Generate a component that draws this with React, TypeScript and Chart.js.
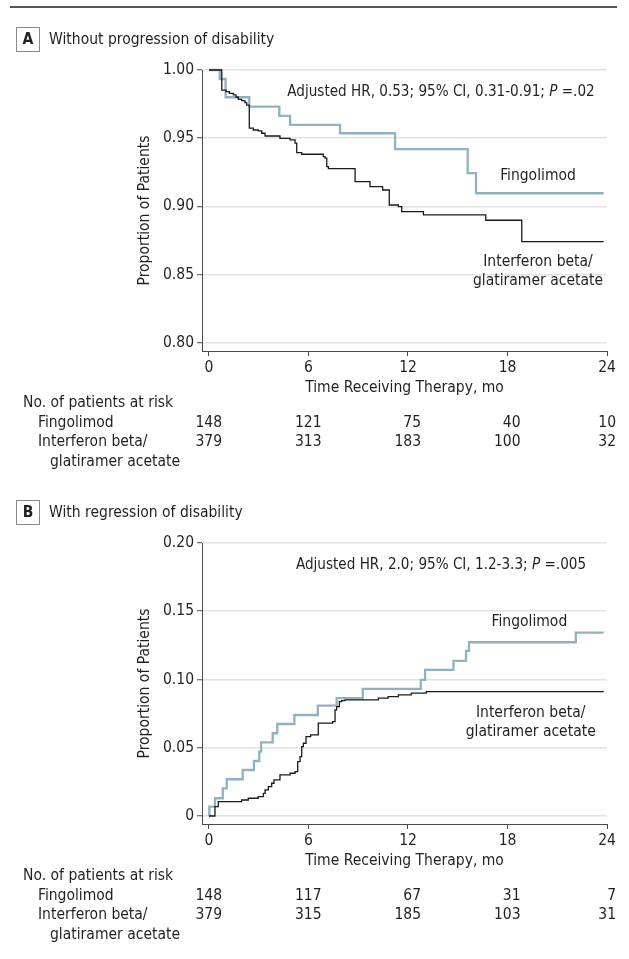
import React, { useEffect, useRef } from 'react';
import { Chart, registerables } from 'chart.js';

Chart.register(...registerables);

// ---------------- Data ----------------
const timeTicks = [0, 6, 12, 18, 24];
const riskTimes = [0, 6, 12, 18, 24];
const seriesNames = ['Fingolimod', 'Interferon beta/glatiramer acetate'];

// Panel A: without progression of disability (survival-type curve)
const aYTicks = [0.8, 0.85, 0.9, 0.95, 1.0];
const aFingoTime = [0, 0.65, 1.0, 2.43, 4.24, 4.89, 7.9, 11.22, 15.6, 16.1, 23.8];
const aFingoValue = [1, 0.9934, 0.98, 0.9731, 0.9663, 0.9597, 0.9536, 0.9419, 0.9243, 0.9096, 0.9096];
const aIfnTime = [0, 0.77, 1.03, 1.23, 1.47, 1.63, 1.77, 1.97, 2.17, 2.27, 2.43, 2.67, 2.97, 3.18, 3.38, 4.28, 4.89, 5.19, 5.29, 5.59, 6.89, 7.0, 7.1, 7.2, 8.81, 9.71, 10.47, 10.87, 11.42, 11.62, 12.93, 16.69, 18.86, 23.8];
const aIfnValue = [1, 0.9853, 0.9841, 0.9829, 0.9817, 0.98, 0.9785, 0.9775, 0.976, 0.9743, 0.9573, 0.956, 0.9553, 0.9536, 0.9516, 0.9499, 0.9487, 0.9463, 0.9394, 0.9382, 0.9365, 0.9353, 0.9291, 0.9277, 0.9181, 0.9145, 0.912, 0.901, 0.8998, 0.8961, 0.8937, 0.8898, 0.8741, 0.8741];
const aRiskFingo = [148, 121, 75, 40, 10];
const aRiskIfn = [379, 313, 183, 100, 32];

// Panel B: with regression of disability (cumulative incidence)
const bYTicks = [0, 0.05, 0.1, 0.15, 0.2];
const bFingoTime = [0, 0.02, 0.36, 0.83, 1.07, 2.03, 2.71, 3.03, 3.14, 3.84, 4.12, 5.15, 6.56, 7.7, 9.27, 12.77, 13.03, 14.74, 15.5, 15.68, 22.12, 23.8];
const bFingoValue = [0, 0.0068, 0.013, 0.0203, 0.0269, 0.0337, 0.0403, 0.0471, 0.054, 0.0606, 0.0674, 0.074, 0.0809, 0.0863, 0.0931, 0.0997, 0.107, 0.1136, 0.121, 0.1273, 0.1344, 0.1344];
const bIfnTime = [0, 0.36, 0.56, 1.97, 2.37, 2.97, 3.28, 3.38, 3.58, 3.78, 3.92, 4.28, 4.89, 5.19, 5.35, 5.49, 5.59, 5.69, 5.85, 6.13, 6.59, 7.46, 7.6, 7.7, 7.86, 8.0, 8.2, 10.21, 10.8, 11.42, 12.2, 13.1, 23.8];
const bIfnValue = [0, 0.0068, 0.0105, 0.0117, 0.013, 0.0142, 0.0166, 0.0191, 0.0215, 0.024, 0.0264, 0.0301, 0.0313, 0.0325, 0.0398, 0.0435, 0.0508, 0.0533, 0.0581, 0.0594, 0.068, 0.0692, 0.0777, 0.0801, 0.0838, 0.0845, 0.085, 0.0863, 0.0875, 0.0887, 0.09, 0.0911, 0.0911];
const bRiskFingo = [148, 117, 67, 31, 7];
const bRiskIfn = [379, 315, 185, 103, 31];

// ---------------- Styles ----------------
const FONT = '"DejaVu Sans Condensed", "Liberation Sans Narrow", "DejaVu Sans", sans-serif';
const FS = 15.5;
const FS_ANN = 15.1;
const TEXT = '#231f20';
const AXIS = '#4a4a4a';
const GRID = '#e2e2e2';
const BLUE = '#8fb2c1';
const BLACK = '#1a1a1a';

type Part = { t: string; it?: boolean };
type Panel = {
  letter: string;
  title: string;
  rule: boolean;
  height: number;
  top: number;
  yMin: number;
  yMax: number;
  yTicks: number[];
  fmt: (v: number) => string;
  fingoT: number[];
  fingoV: number[];
  ifnT: number[];
  ifnV: number[];
  riskF: number[];
  riskI: number[];
  annotation: Part[];
  fingoLabel: [number, number];
  ifnLabel: [number, number, number];
};

const panels: Panel[] = [
  {
    letter: 'A',
    title: 'Without progression of disability',
    rule: true,
    height: 473,
    top: 0,
    yMin: 0.7939,
    yMax: 1.0,
    yTicks: aYTicks,
    fmt: (v) => v.toFixed(2),
    fingoT: aFingoTime,
    fingoV: aFingoValue,
    ifnT: aIfnTime,
    ifnV: aIfnValue,
    riskF: aRiskFingo,
    riskI: aRiskIfn,
    annotation: [{ t: 'Adjusted HR, 0.53; 95% CI, 0.31-0.91; ' }, { t: 'P', it: true }, { t: ' =.02' }],
    fingoLabel: [19.84, 0.9223],
    ifnLabel: [19.84, 0.8595, 0.8455],
  },
  {
    letter: 'B',
    title: 'With regression of disability',
    rule: false,
    height: 486,
    top: 473,
    yMin: -0.00587,
    yMax: 0.2,
    yTicks: bYTicks,
    fmt: (v) => (v === 0 ? '0' : v.toFixed(2)),
    fingoT: bFingoTime,
    fingoV: bFingoValue,
    ifnT: bIfnTime,
    ifnV: bIfnValue,
    riskF: bRiskFingo,
    riskI: bRiskIfn,
    annotation: [{ t: 'Adjusted HR, 2.0; 95% CI, 1.2-3.3; ' }, { t: 'P', it: true }, { t: ' =.005' }],
    fingoLabel: [19.32, 0.142],
    ifnLabel: [19.4, 0.0753, 0.0618],
  },
];

const font = (style = '', size = FS) => `${style} ${size}px ${FONT}`.trim();

function decorPlugin(p: Panel) {
  return {
    id: 'decor' + p.letter,
    afterDraw(chart: any) {
      const ctx: CanvasRenderingContext2D = chart.ctx;
      const xs = chart.scales.x;
      const ys = chart.scales.y;
      const area = chart.chartArea;
      ctx.save();
      ctx.fillStyle = TEXT;
      ctx.textBaseline = 'middle';

      if (p.rule) {
        ctx.strokeStyle = '#555';
        ctx.lineWidth = 2;
        ctx.beginPath();
        ctx.moveTo(10, 7);
        ctx.lineTo(617, 7);
        ctx.stroke();
      }

      // panel letter box + title
      const titleY = area.top - 30.5;
      ctx.strokeStyle = '#8a8a8a';
      ctx.lineWidth = 1;
      ctx.strokeRect(16.5, titleY - 12, 23, 24);
      ctx.font = font('bold');
      ctx.textAlign = 'center';
      ctx.fillText(p.letter, 28, titleY + 0.5);
      ctx.font = font();
      ctx.textAlign = 'left';
      ctx.fillText(p.title, 49, titleY);

      // annotation (centered, italic P)
      const annY = area.top + 21.7;
      let total = 0;
      for (const part of p.annotation) {
        ctx.font = part.it ? font('italic', FS_ANN) : font('', FS_ANN);
        total += ctx.measureText(part.t).width;
      }
      let ax = 441 - total / 2;
      ctx.textAlign = 'left';
      for (const part of p.annotation) {
        ctx.font = part.it ? font('italic', FS_ANN) : font('', FS_ANN);
        ctx.fillText(part.t, ax, annY);
        ax += ctx.measureText(part.t).width;
      }

      // curve labels
      ctx.font = font();
      ctx.textAlign = 'center';
      ctx.fillText(seriesNames[0], xs.getPixelForValue(p.fingoLabel[0]), ys.getPixelForValue(p.fingoLabel[1]));
      const ix = xs.getPixelForValue(p.ifnLabel[0]);
      ctx.fillText('Interferon beta/', ix, ys.getPixelForValue(p.ifnLabel[1]));
      ctx.fillText('glatiramer acetate', ix, ys.getPixelForValue(p.ifnLabel[2]));

      // risk table
      const base = area.bottom;
      ctx.textAlign = 'left';
      ctx.fillText('No. of patients at risk', 23, base + 51.5);
      ctx.fillText('Fingolimod', 38, base + 71.5);
      ctx.fillText('Interferon beta/', 38, base + 90.7);
      ctx.fillText('glatiramer acetate', 50, base + 110.7);
      ctx.textAlign = 'right';
      riskTimes.forEach((t, i) => {
        const x = Math.min(xs.getPixelForValue(t) + 13, 616);
        ctx.fillText(String(p.riskF[i]), x, base + 71.5);
        ctx.fillText(String(p.riskI[i]), x, base + 90.7);
      });
      ctx.restore();
    },
  };
}

function PanelChart({ p }: { p: Panel }) {
  const ref = useRef<HTMLCanvasElement>(null);
  useEffect(() => {
    if (!ref.current) return;
    const chart = new Chart(ref.current, {
      type: 'line',
      data: {
        datasets: [
          {
            label: seriesNames[1],
            data: p.ifnT.map((t, i) => ({ x: t, y: p.ifnV[i] })),
            borderColor: BLACK,
            borderWidth: 1.3,
            stepped: true,
            pointRadius: 0,
            fill: false,
            clip: 6,
          },
          {
            label: seriesNames[0],
            data: p.fingoT.map((t, i) => ({ x: t, y: p.fingoV[i] })),
            borderColor: BLUE,
            borderWidth: 2.3,
            stepped: true,
            pointRadius: 0,
            fill: false,
            clip: 6,
          },
        ],
      },
      options: {
        responsive: false,
        animation: false,
        events: [],
        layout: { padding: { left: 120, right: 22, top: 70, bottom: p.height - 397 } },
        plugins: { legend: { display: false }, tooltip: { enabled: false }, title: { display: false } },
        scales: {
          x: {
            type: 'linear',
            min: -0.422,
            max: 24,
            afterBuildTicks: (s: any) => {
              s.ticks = timeTicks.map((v) => ({ value: v }));
            },
            afterFit: (s: any) => {
              s.height = 46;
            },
            grid: { drawOnChartArea: false, drawTicks: true, tickLength: 5, tickColor: AXIS, tickWidth: 1 },
            border: { display: true, color: AXIS, width: 1 },
            ticks: {
              autoSkip: false,
              maxRotation: 0,
              padding: 3,
              color: TEXT,
              font: { family: FONT, size: FS },
              callback: (v: any) => String(v),
            },
            title: {
              display: true,
              text: 'Time Receiving Therapy, mo',
              color: TEXT,
              font: { family: FONT, size: FS },
              padding: { top: 0, bottom: 0 },
            },
          },
          y: {
            type: 'linear',
            min: p.yMin,
            max: p.yMax,
            afterBuildTicks: (s: any) => {
              s.ticks = p.yTicks.map((v) => ({ value: v }));
            },
            afterFit: (s: any) => {
              s.width = 82;
            },
            grid: { color: GRID, lineWidth: 1.5, drawTicks: true, tickLength: 5, tickColor: AXIS, tickWidth: 1 },
            border: { display: true, color: AXIS, width: 1 },
            ticks: {
              padding: 3,
              color: TEXT,
              font: { family: FONT, size: FS },
              callback: (v: any) => p.fmt(Number(v)),
            },
            title: {
              display: true,
              text: 'Proportion of Patients',
              color: TEXT,
              font: { family: FONT, size: FS },
              padding: { top: 16, bottom: 0 },
            },
          },
        },
      },
      plugins: [decorPlugin(p)],
    } as any);
    return () => chart.destroy();
  }, [p]);
  return (
    <canvas
      ref={ref}
      width={629}
      height={p.height}
      style={{ position: 'absolute', left: 0, top: p.top, width: 629, height: p.height, display: 'block' }}
    />
  );
}

export default function App() {
  return (
    <div style={{ position: 'absolute', left: 0, top: 0, width: 629, height: 959, background: '#fff', overflow: 'hidden' }}>
      {panels.map((p) => (
        <PanelChart key={p.letter} p={p} />
      ))}
    </div>
  );
}
